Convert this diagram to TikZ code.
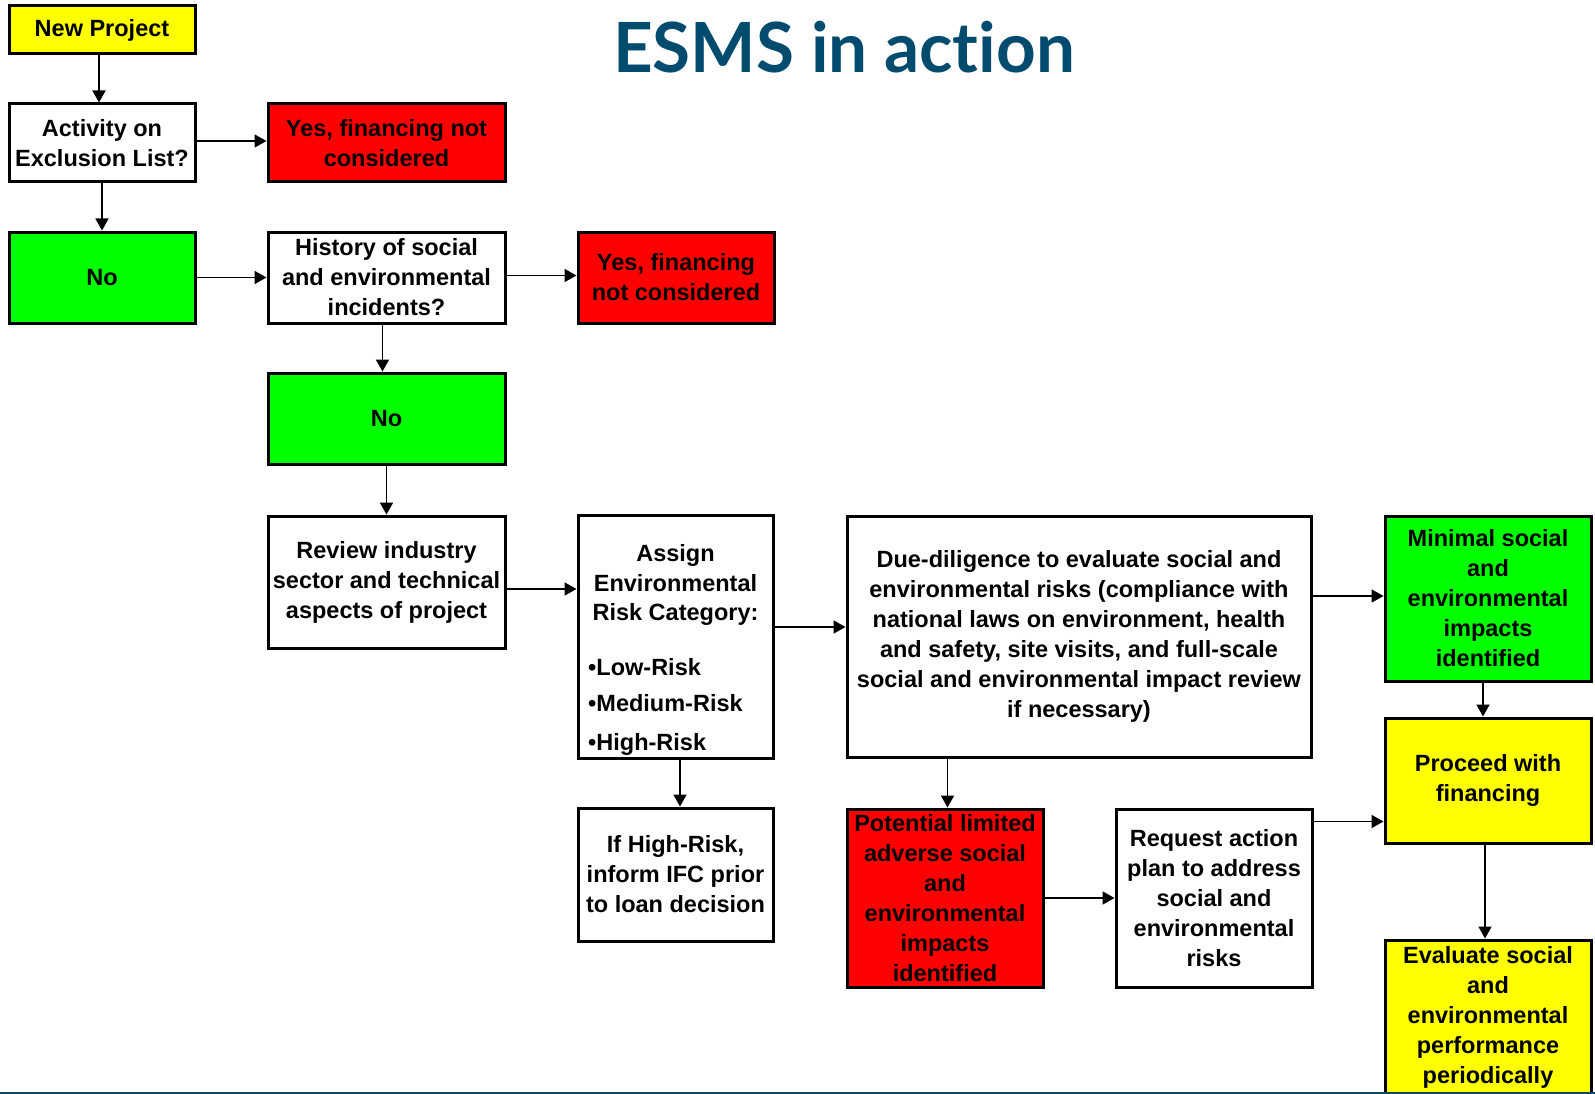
\documentclass[tikz,border=0pt]{standalone}
\usepackage{fontspec}
\usepackage{graphicx}
\setmainfont{Liberation Sans}
\newfontfamily\titlefont[Ligatures={NoCommon,NoDiscretionary,NoContextual}]{Lato}
\usetikzlibrary{arrows.meta}
\definecolor{ttl}{HTML}{004B6E}
\definecolor{bline}{HTML}{0D4A5C}
\definecolor{yel}{HTML}{FFFF00}
\definecolor{rd}{HTML}{FF0000}
\definecolor{grn}{HTML}{00FF00}
\begin{document}
\begin{tikzpicture}[x=1pt,y=-1pt,
 box/.style={draw=black, line width=3pt, align=center, inner sep=0pt, font=\bfseries\fontsize{23.5}{30}\selectfont},
 txt/.style={inner sep=0pt, font=\bfseries\fontsize{23.5}{30}\selectfont},
 arr/.style={line width=1.8pt, -{Triangle[length=12pt,width=13pt]}},
]
\fill[white] (0,0) rectangle (1595,1094);
\useasboundingbox (0,0) rectangle (1595,1094);
\clip (0,0) rectangle (1595,1094);

% title
\node[font=\titlefont\bfseries, text=ttl, anchor=base, inner sep=0pt] (title) at (844,73) {\resizebox{462pt}{!}{ESMS in act\hbox{}ion}};

% boxes
\node[box, fill=yel, minimum width=186pt, minimum height=48pt] (np) at (102,30) {New Project};
\node[box, fill=white, minimum width=186pt, minimum height=78pt] (act) at (102,143) {Activity on\\Exclusion List?};
\node[box, fill=rd, minimum width=237pt, minimum height=78pt] (yes1) at (386.5,143) {Yes, financing not\\considered};
\node[box, fill=grn, minimum width=186pt, minimum height=91pt] (no1) at (102,277.5) {No};
\node[box, fill=white, minimum width=237pt, minimum height=91pt] (hist) at (386.5,277.5) {History of social\\and environmental\\incidents?};
\node[box, fill=rd, minimum width=196pt, minimum height=91pt] (yes2) at (676,277.5) {Yes, financing\\not considered};
\node[box, fill=grn, minimum width=237pt, minimum height=91pt] (no2) at (386.5,418.5) {No};
\node[box, fill=white, minimum width=237pt, minimum height=132pt] (rev) at (386.5,582) {Review industry\\sector and technical\\aspects of project};
\node[box, fill=white, minimum width=195pt, minimum height=243pt] (assign) at (675.5,636.5) {};
\node[txt, anchor=base] (a1) at (675.5,561) {Assign};
\node[txt, anchor=base] (a2) at (675.5,591) {Environmental};
\node[txt, anchor=base] (a3) at (675.5,620) {Risk Category:};
\node[txt, anchor=base west] (low) at (588,675) {•Low-Risk};
\node[txt, anchor=base west] (med) at (588,711.5) {•Medium-Risk};
\node[txt, anchor=base west] (high) at (588,750) {•High-Risk};
\node[box, fill=white, minimum width=195pt, minimum height=133pt] (ifhr) at (675.5,874.5) {If High-Risk,\\inform IFC prior\\to loan decision};
\node[box, fill=white, minimum width=464pt, minimum height=241pt] (due) at (1079,636.5) {Due-diligence to evaluate social and\\environmental risks (compliance with\\national laws on environment, health\\and safety, site visits, and full-scale\\social and environmental impact review\\if necessary)};
\node[box, fill=grn, minimum width=206pt, minimum height=165pt] (min) at (1488,598.5) {Minimal social\\and\\environmental\\impacts\\identified};
\node[box, fill=yel, minimum width=206pt, minimum height=125pt] (proc) at (1488,780.5) {Proceed with\\financing};
\node[box, fill=yel, minimum width=206pt, minimum height=154pt] (eval) at (1488,1017) {Evaluate social\\and\\environmental\\performance\\periodically};
\node[box, fill=rd, minimum width=196pt, minimum height=178pt] (pot) at (945,898) {Potential limited\\adverse social\\and\\environmental\\impacts\\identified};
\node[box, fill=white, minimum width=196pt, minimum height=178pt] (req) at (1214,898) {Request action\\plan to address\\social and\\environmental\\risks};

% connectors
\draw[arr] ([xshift=-3pt]np.south) -- ([xshift=-3pt]np.south |- act.north);
\draw[arr] (act.south) -- (no1.north);
\draw[arr] ([yshift=2pt]yes1.west -| act.east) -- ([yshift=2pt]yes1.west);
\draw[arr] (no1.east) -- (hist.west);
\draw[arr] ([yshift=2pt]hist.east) -- ([yshift=2pt]hist.east -| yes2.west);
\draw[arr] ([xshift=-4pt]hist.south) -- ([xshift=-4pt]hist.south |- no2.north);
\draw[arr] (no2.south) -- (rev.north);
\draw[arr] ([yshift=-7pt]rev.east) -- ([yshift=-7pt]rev.east -| assign.west);
\draw[arr] ([yshift=9.5pt]assign.east) -- ([yshift=9.5pt]assign.east -| due.west);
\draw[arr] ([xshift=4.5pt]assign.south) -- ([xshift=4.5pt]assign.south |- ifhr.north);
\draw[arr] ([yshift=2.5pt]min.west -| due.east) -- ([yshift=2.5pt]min.west);
\draw[arr] ([xshift=2.5pt]pot.north |- due.south) -- ([xshift=2.5pt]pot.north);
\draw[arr] (pot.east) -- (req.west);
\draw[arr] ([xshift=-5pt]min.south) -- ([xshift=-5pt]min.south |- proc.north);
\draw[arr] ([yshift=-14pt]req.north east) -- ([yshift=-14pt]req.north east -| proc.west);
\draw[arr] ([xshift=-3pt]proc.south) -- ([xshift=-3pt]proc.south |- eval.north);

% bottom rule
\draw[line width=2.5pt, bline] (0,1093) -- (1595,1093);
\end{tikzpicture}
\end{document}
